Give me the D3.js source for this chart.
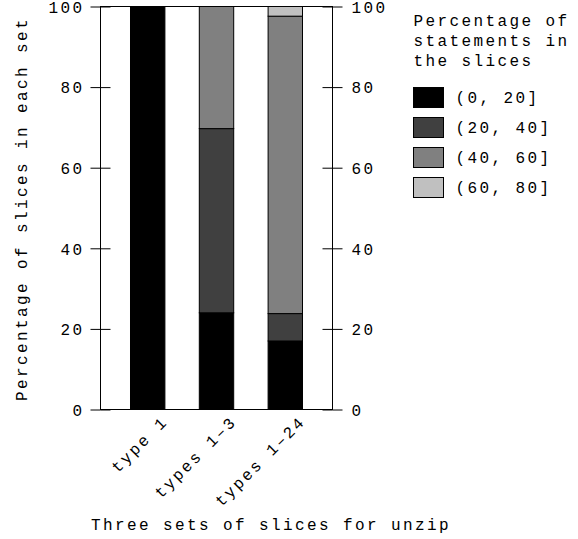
<!DOCTYPE html>
<html>
<head>
<meta charset="utf-8">
<script src="https://cdn.jsdelivr.net/npm/d3@7"></script>
<style>
  body { margin: 0; background: #fff; }
  text { font-family: "Liberation Mono", "Courier New", monospace; font-size: 16px; letter-spacing: 2.4px; fill: #000; }
</style>
</head>
<body>
<div id="container"></div>
<script>
/* CONSTANTS AND GLOBALS */
const width = 578,
  height = 539,
  margin = { top: 6.5, bottom: 129.5, left: 100.5, right: 245.5 };

// DATA
const sets = ["type 1", "types 1\u20133", "types 1\u201324"];
const bins = ["(0, 20]", "(20, 40]", "(40, 60]", "(60, 80]"];
const colors = ["#000000", "#404040", "#808080", "#c0c0c0"];
// percentage of slices per bin, one array per set
const bin0to20 = [100, 24, 17];
const bin20to40 = [0, 45.7, 6.8];
const bin40to60 = [0, 30.3, 73.8];
const bin60to80 = [0, 0, 2.4];
const yTicks = [0, 20, 40, 60, 80, 100];
const legendTitle = ["Percentage of", "statements in", "the slices"];

const table = sets.map((s, i) => ({
  set: s,
  "(0, 20]": bin0to20[i],
  "(20, 40]": bin20to40[i],
  "(40, 60]": bin40to60[i],
  "(60, 80]": bin60to80[i]
}));

// APPEND SVG
const svg = d3.select("#container")
  .append("svg")
  .attr("width", width)
  .attr("height", height);

// SCALES
const x = d3.scaleBand()
  .domain(sets)
  .range([margin.left, width - margin.right])
  .paddingInner(0.5)
  .paddingOuter(0.436);

const y = d3.scaleLinear()
  .domain([0, 100])
  .range([height - margin.bottom, margin.top]);

const color = d3.scaleOrdinal().domain(bins).range(colors);

// STACKED BARS
const stacked = d3.stack().keys(bins)(table);

svg.selectAll("g.layer")
  .data(stacked)
  .join("g")
  .attr("class", "layer")
  .attr("fill", d => color(d.key))
  .selectAll("rect")
  .data(d => d.filter(p => p[1] - p[0] > 0))
  .join("rect")
  .attr("x", d => x(d.data.set))
  .attr("y", d => y(d[1]))
  .attr("width", x.bandwidth())
  .attr("height", d => y(d[0]) - y(d[1]))
  .attr("stroke", "#000")
  .attr("stroke-width", 1);

// FRAME
svg.append("rect")
  .attr("x", margin.left)
  .attr("y", margin.top)
  .attr("width", width - margin.right - margin.left)
  .attr("height", height - margin.bottom - margin.top)
  .attr("fill", "none")
  .attr("stroke", "#000");

// LEFT AND RIGHT AXES (ticks go both in and out, like gnuplot)
const leftAxis = d3.axisLeft(y).tickValues(yTicks).tickSizeInner(-10).tickSizeOuter(0).tickPadding(16);
const rightAxis = d3.axisRight(y).tickValues(yTicks).tickSizeInner(-10).tickSizeOuter(0).tickPadding(19);

const gl = svg.append("g")
  .attr("transform", `translate(${margin.left},0)`)
  .call(leftAxis);
const gr = svg.append("g")
  .attr("transform", `translate(${width - margin.right},0)`)
  .call(rightAxis);

[gl, gr].forEach(g => {
  g.select(".domain").remove();
  g.selectAll("text").attr("font-size", null).attr("font-family", null).attr("dy", "0.36em");
  // outer part of the tick
  g.selectAll(".tick").append("line")
    .attr("x2", g === gl ? -10 : 10)
    .attr("stroke", "#000");
  g.selectAll(".tick line").attr("stroke", "#000");
});

// X TICK LABELS (rotated)
svg.selectAll("text.xlabel")
  .data(sets)
  .join("text")
  .attr("class", "xlabel")
  .attr("text-anchor", "end")
  .attr("transform", d => `translate(${x(d) + x.bandwidth() / 2 + 21},${height - margin.bottom + 13}) rotate(-45)`)
  .text(d => d);

// AXIS TITLES
svg.append("text")
  .attr("text-anchor", "middle")
  .attr("x", 271)
  .attr("y", 530)
  .text("Three sets of slices for unzip");

svg.append("text")
  .attr("text-anchor", "middle")
  .attr("transform", `translate(26.5,${(y(0) + y(100)) / 2 + 1}) rotate(-90)`)
  .text("Percentage of slices in each set");

// LEGEND
const legend = svg.append("g")
  .attr("class", "legend")
  .attr("transform", "translate(413.5,0)");

legend.selectAll("text.title")
  .data(legendTitle)
  .join("text")
  .attr("class", "title")
  .attr("x", 0)
  .attr("y", (d, i) => 26 + i * 20)
  .text(d => d);

const items = legend.selectAll("g.item")
  .data(bins)
  .join("g")
  .attr("class", "item")
  .attr("transform", (d, i) => `translate(0,${87.5 + i * 30})`);

items.append("rect")
  .attr("width", 30)
  .attr("height", 20)
  .attr("fill", d => color(d))
  .attr("stroke", "#000");

items.append("text")
  .attr("x", 42)
  .attr("y", 15.5)
  .text(d => d);
</script>
</body>
</html>
